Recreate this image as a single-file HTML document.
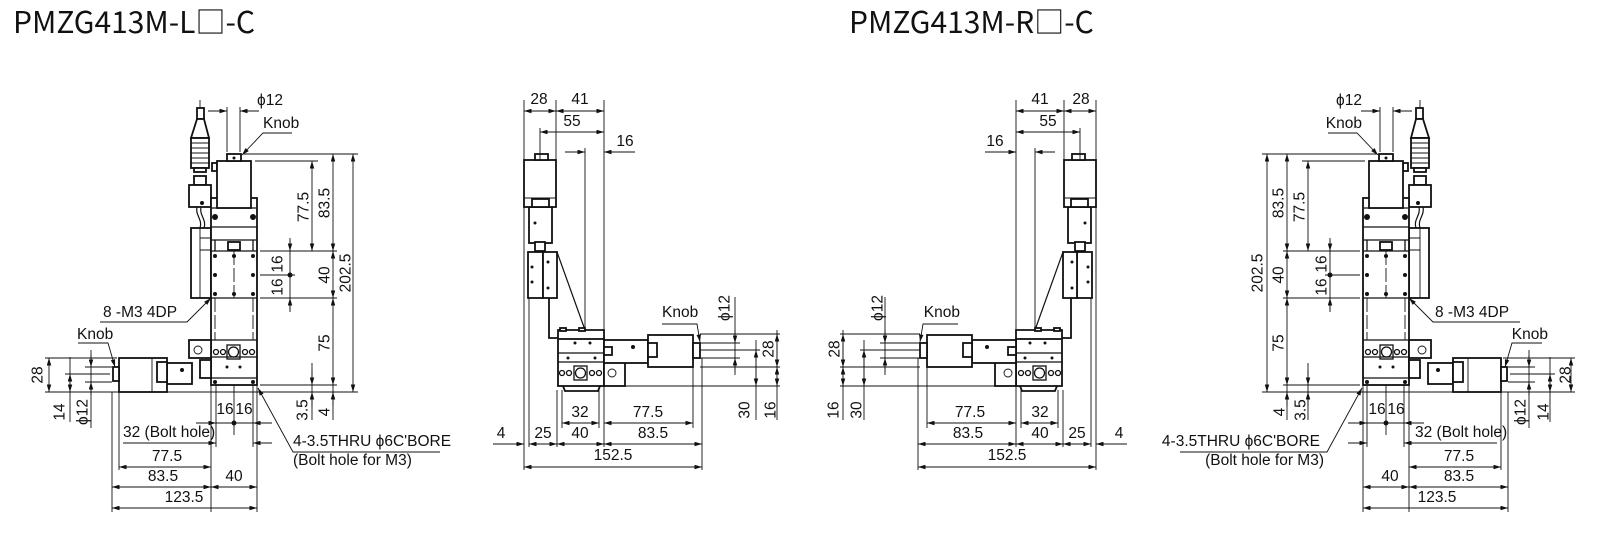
<!DOCTYPE html>
<html><head><meta charset="utf-8"><style>
html,body{margin:0;padding:0;background:#fff;}
svg{display:block;}
text{font-family:"Liberation Sans",sans-serif;font-size:15.5px;fill:#111;}
.ttl{font-family:"Noto Sans CJK JP","Liberation Sans",sans-serif;font-size:30px;}
.o{fill:#fff;stroke:#111;stroke-width:1.8;}
.t{fill:none;stroke:#111;stroke-width:0.9;}
.k{fill:#111;stroke:none;}
.m{fill:none;stroke:#111;stroke-width:0.9;marker-start:url(#a);marker-end:url(#a);}
.e{fill:none;stroke:#111;stroke-width:0.9;marker-end:url(#a);}
.r{dominant-baseline:central;text-anchor:middle;}
</style></head><body>
<svg width="1604" height="556" viewBox="0 0 1604 556" xmlns="http://www.w3.org/2000/svg">
<defs>
<marker id="a" viewBox="0 0 10 6" refX="10" refY="3" markerWidth="8" markerHeight="4.5" markerUnits="userSpaceOnUse" orient="auto-start-reverse"><path d="M0,0L10,3L0,6z" fill="#111"/></marker>
<g id="L">
<line class="t" x1="200" y1="100" x2="200" y2="110"/>
<rect class="o" x="197" y="108" width="7" height="11"/>
<path class="o" d="M197,119L191,138L209,138L204,119Z"/>
<rect class="o" x="191" y="138" width="18" height="30"/>
<path class="t" d="M191,143H209M191,148H209M191,153H209M191,158H209M191,163H209"/>
<rect class="o" x="194" y="168" width="12" height="4"/>
<rect class="o" x="194" y="176" width="12" height="9"/>
<rect class="o" x="189" y="185" width="22" height="22"/>
<circle class="k" cx="202" cy="203" r="2"/>
<path class="t" d="M197,207C195,215 203,220 200,228M201,207C199,215 207,220 204,228" style="stroke-width:1.2"/>
<rect class="o" x="191" y="228" width="20" height="70"/>
<path class="t" d="M200,228V298M200,238H211M200,250H211"/>
<rect class="o" x="212" y="163" width="5" height="8"/>
<rect class="o" x="211" y="198" width="46" height="187"/>
<path class="t" d="M211,208H257M211,227H257M211,240H257M211,251H257M211,298H257M211,340H257M211,357H257M211,378H257M215,240V251M253,240V251" style="stroke-width:1.3"/>
<rect class="o" x="217" y="161" width="34" height="47"/>
<rect class="o" x="227" y="154" width="14" height="7"/>
<circle class="k" cx="234" cy="158" r="1.5"/>
<circle class="k" cx="215" cy="217" r="3"/><circle class="k" cx="253" cy="217" r="3"/>
<rect class="o" x="228" y="242" width="12" height="8"/>
<g class="k"><circle cx="215" cy="256" r="2"/><circle cx="234" cy="256" r="2"/><circle cx="253" cy="256" r="2"/><circle cx="215" cy="275" r="2"/><circle cx="253" cy="275" r="2"/><circle cx="215" cy="294" r="2"/><circle cx="234" cy="294" r="2"/><circle cx="253" cy="294" r="2"/></g>
<path class="t" d="M234,251V298M215,298V340M253,298V340" style="stroke-dasharray:14,3"/>
<g class="t" style="stroke-width:1.3"><circle cx="216" cy="352" r="2.5"/><circle cx="223" cy="352" r="2.5"/><rect x="227" y="345" width="13" height="14"/><circle cx="233.5" cy="352" r="5"/><circle cx="245" cy="352" r="2.5"/><circle cx="252" cy="352" r="2.5"/></g>
<circle class="k" cx="227" cy="367" r="1.5"/><circle class="k" cx="240" cy="367" r="1.5"/>
<circle class="k" cx="215" cy="382" r="2"/><circle class="k" cx="253" cy="382" r="2"/>
<rect class="o" x="189" y="340" width="22" height="18"/>
<circle class="t" cx="198" cy="350" r="4"/>
<rect class="o" x="200" y="360" width="11" height="18"/>
<rect class="o" x="167" y="363" width="25" height="21"/>
<circle class="k" cx="182" cy="370" r="2"/>
<rect class="o" x="119" y="358" width="48" height="34"/>
<path class="t" d="M152,358V392"/>
<rect class="o" x="157" y="362" width="10" height="20"/>
<rect class="o" x="113" y="367" width="6" height="14"/>
<path class="t" d="M227,107V152M240,107V152M243,154H358M255,161H318M260,251H337M260,298H337M260,385H337M45,392H358M260,275H295M290,238V312M45,358H117M85,367H112M85,382H112M65,374H110M112,392V512M119,392V470M211,385V512M257,385V512M216,385V447M253,385V447M234,385V435M216,423H253M312,363V420M333,385V420M70,357V422M91,350V428"/>
<line class="e" x1="208" y1="111" x2="227" y2="111"/><line class="e" x1="259" y1="111" x2="240" y2="111"/>
<polyline class="e" points="292,133 263,133 242,155"/>
<line class="m" x1="312" y1="161" x2="312" y2="251"/>
<line class="m" x1="333" y1="154" x2="333" y2="251"/>
<line class="m" x1="353" y1="154" x2="353" y2="392"/>
<line class="m" x1="333" y1="251" x2="333" y2="298"/>
<line class="m" x1="333" y1="298" x2="333" y2="385"/>
<line class="e" x1="290" y1="240" x2="290" y2="251"/><line class="e" x1="290" y1="310" x2="290" y2="298"/>
<circle class="k" cx="290" cy="275" r="2.5"/>
<line class="e" x1="312" y1="370" x2="312" y2="385"/><line class="e" x1="312" y1="406" x2="312" y2="392"/>
<line class="e" x1="333" y1="406" x2="333" y2="392"/>
<polyline class="e" points="100,322 187,322 211,298"/>
<polyline class="e" points="78,343 108,343 115,367"/>
<line class="m" x1="49" y1="358" x2="49" y2="392"/>
<line class="m" x1="70" y1="374" x2="70" y2="392"/>
<line class="e" x1="91" y1="355" x2="91" y2="367"/><line class="e" x1="91" y1="395" x2="91" y2="382"/>
<line class="e" x1="196" y1="423" x2="216" y2="423"/><line class="e" x1="272" y1="423" x2="253" y2="423"/>
<circle class="k" cx="234" cy="423" r="2.5"/>
<line class="e" x1="123" y1="443" x2="216" y2="443"/><line class="e" x1="272" y1="443" x2="253" y2="443"/>
<line class="m" x1="119" y1="467" x2="211" y2="467"/>
<line class="m" x1="112" y1="487" x2="211" y2="487"/>
<line class="m" x1="211" y1="487" x2="257" y2="487"/>
<line class="m" x1="112" y1="508" x2="257" y2="508"/>
<polyline class="e" points="440,452 293,452 258,388"/>
<rect class="o" x="529" y="207" width="23" height="36"/>
<circle class="k" cx="535" cy="223" r="1.5"/>
<rect class="o" x="524" y="160" width="32" height="47"/>
<path class="t" d="M524,198H556"/>
<rect class="o" x="532" y="199" width="17" height="8"/>
<rect class="o" x="535" y="154" width="13" height="6"/>
<rect class="o" x="535" y="242" width="10" height="9"/>
<path class="o" d="M549,298V338H558" style="fill:none"/>
<line class="t" x1="557" y1="252" x2="585" y2="330" style="stroke-width:1.2"/>
<rect class="o" x="528" y="252" width="15" height="46"/>
<rect class="o" x="543" y="252" width="14" height="46"/>
<g class="k"><circle cx="532" cy="267" r="1.5"/><circle cx="532" cy="282" r="1.5"/><circle cx="548" cy="262" r="1.5"/><circle cx="548" cy="288" r="1.5"/></g>
<path class="o" d="M558,338V330H604V339" style="fill:none"/>
<rect class="o" x="560" y="328" width="6" height="3"/><rect class="o" x="579" y="328" width="6" height="3"/>
<rect class="o" x="558" y="339" width="46" height="47"/>
<path class="t" d="M558,353H604M558,362H604" style="stroke-width:1.3"/>
<g class="k"><circle cx="575" cy="343" r="1.5"/><circle cx="590" cy="343" r="1.5"/><circle cx="568" cy="358" r="1.5"/><circle cx="595" cy="358" r="1.5"/></g>
<g class="t" style="stroke-width:1.3"><circle cx="562" cy="373" r="2.5"/><circle cx="569" cy="373" r="2.5"/><rect x="574" y="366" width="13" height="14"/><circle cx="580.5" cy="373" r="5"/><circle cx="592" cy="373" r="2.5"/><circle cx="599" cy="373" r="2.5"/></g>
<path class="o" d="M563,386L565,391H598L600,386" style="fill:none"/>
<rect class="o" x="604" y="362" width="21" height="24"/>
<circle class="t" cx="612" cy="373" r="4"/>
<rect class="o" x="604" y="340" width="44" height="23"/>
<rect class="o" x="604" y="347" width="8" height="8"/>
<circle class="k" cx="633" cy="347" r="2"/>
<rect class="o" x="648" y="335" width="45" height="32"/>
<rect class="o" x="648" y="343" width="9" height="14"/>
<rect class="o" x="693" y="343" width="7" height="15"/>
<path class="t" d="M524,100V470M556,100V160M604,100V339M604,386V447M540,128V160M585,148V330M700,343H740M700,358H740M700,350H760M700,334H780M700,367H780M604,386H780M735,297V375M777,330V420M756,340V420M529,298V447M557,390V447M562,390V428M599,390V428M693,367V428M702,358V470"/>
<line class="m" x1="524" y1="111" x2="556" y2="111"/>
<line class="m" x1="556" y1="111" x2="604" y2="111"/>
<line class="m" x1="540" y1="132" x2="604" y2="132"/>
<line class="e" x1="565" y1="152" x2="585" y2="152"/><line class="e" x1="635" y1="152" x2="604" y2="152"/>
<polyline class="e" points="662,324 697,324 700,342"/>
<line class="e" x1="735" y1="330" x2="735" y2="343"/><line class="e" x1="735" y1="371" x2="735" y2="358"/>
<line class="m" x1="777" y1="334" x2="777" y2="367"/>
<line class="m" x1="777" y1="367" x2="777" y2="386"/>
<line class="m" x1="756" y1="350" x2="756" y2="386"/>
<line class="m" x1="562" y1="423" x2="599" y2="423"/>
<line class="m" x1="604" y1="423" x2="693" y2="423"/>
<line class="e" x1="493" y1="444" x2="524" y2="444"/>
<line class="m" x1="529" y1="444" x2="557" y2="444"/>
<line class="m" x1="557" y1="444" x2="604" y2="444"/>
<line class="m" x1="604" y1="444" x2="702" y2="444"/>
<line class="m" x1="524" y1="467" x2="702" y2="467"/>
</g>
</defs>
<use href="#L"/>
<use href="#L" transform="matrix(-1 0 0 1 1620 0)"/>

<text class="ttl" x="13" y="33">PMZG413M-L□-C</text>
<text class="ttl" x="849" y="33">PMZG413M-R□-C</text>

<text x="270" y="105" text-anchor="middle">ϕ12</text>
<text x="263" y="128">Knob</text>
<text class="r" transform="rotate(-90 304 207)" x="304" y="207">77.5</text>
<text class="r" transform="rotate(-90 325 203)" x="325" y="203">83.5</text>
<text class="r" transform="rotate(-90 346 273)" x="346" y="273">202.5</text>
<text class="r" transform="rotate(-90 278 287)" x="278" y="287">16</text>
<text class="r" transform="rotate(-90 278 264)" x="278" y="264">16</text>
<text class="r" transform="rotate(-90 325 275)" x="325" y="275">40</text>
<text class="r" transform="rotate(-90 325 343)" x="325" y="343">75</text>
<text class="r" transform="rotate(-90 303 410)" x="303" y="410">3.5</text>
<text class="r" transform="rotate(-90 325 412)" x="325" y="412">4</text>
<text x="103" y="317">8 -M3 4DP</text>
<text x="77" y="339">Knob</text>
<text class="r" transform="rotate(-90 38 375)" x="38" y="375">28</text>
<text class="r" transform="rotate(-90 60 412)" x="60" y="412">14</text>
<text class="r" transform="rotate(-90 83 412)" x="83" y="412">ϕ12</text>
<text x="225" y="414" text-anchor="middle">16</text>
<text x="244" y="414" text-anchor="middle">16</text>
<text x="123" y="437">32 (Bolt hole)</text>
<text x="167" y="461" text-anchor="middle">77.5</text>
<text x="163" y="481" text-anchor="middle">83.5</text>
<text x="234" y="481" text-anchor="middle">40</text>
<text x="184" y="502" text-anchor="middle">123.5</text>
<text x="293" y="446">4-3.5THRU ϕ6C'BORE</text>
<text x="293" y="465">(Bolt hole for M3)</text>

<text x="539" y="104" text-anchor="middle">28</text>
<text x="580" y="104" text-anchor="middle">41</text>
<text x="572" y="126" text-anchor="middle">55</text>
<text x="625" y="146" text-anchor="middle">16</text>
<text x="662" y="317">Knob</text>
<text class="r" transform="rotate(-90 725 308)" x="725" y="308">ϕ12</text>
<text class="r" transform="rotate(-90 769 349)" x="769" y="349">28</text>
<text class="r" transform="rotate(-90 745 410)" x="745" y="410">30</text>
<text class="r" transform="rotate(-90 771 410)" x="771" y="410">16</text>
<text x="580" y="417" text-anchor="middle">32</text>
<text x="648" y="417" text-anchor="middle">77.5</text>
<text x="501" y="438" text-anchor="middle">4</text>
<text x="543" y="438" text-anchor="middle">25</text>
<text x="580" y="438" text-anchor="middle">40</text>
<text x="653" y="438" text-anchor="middle">83.5</text>
<text x="613" y="460" text-anchor="middle">152.5</text>

<text x="1081" y="104" text-anchor="middle">28</text>
<text x="1040" y="104" text-anchor="middle">41</text>
<text x="1048" y="126" text-anchor="middle">55</text>
<text x="995" y="146" text-anchor="middle">16</text>
<text x="960" y="317" text-anchor="end">Knob</text>
<text class="r" transform="rotate(-90 878 308)" x="878" y="308">ϕ12</text>
<text class="r" transform="rotate(-90 835 349)" x="835" y="349">28</text>
<text class="r" transform="rotate(-90 857 410)" x="857" y="410">30</text>
<text class="r" transform="rotate(-90 834 410)" x="834" y="410">16</text>
<text x="1040" y="417" text-anchor="middle">32</text>
<text x="970" y="417" text-anchor="middle">77.5</text>
<text x="1119" y="438" text-anchor="middle">4</text>
<text x="1077" y="438" text-anchor="middle">25</text>
<text x="1040" y="438" text-anchor="middle">40</text>
<text x="968" y="438" text-anchor="middle">83.5</text>
<text x="1007" y="460" text-anchor="middle">152.5</text>

<text x="1349" y="105" text-anchor="middle">ϕ12</text>
<text x="1362" y="128" text-anchor="end">Knob</text>
<text class="r" transform="rotate(-90 1300 207)" x="1300" y="207">77.5</text>
<text class="r" transform="rotate(-90 1279 203)" x="1279" y="203">83.5</text>
<text class="r" transform="rotate(-90 1258 273)" x="1258" y="273">202.5</text>
<text class="r" transform="rotate(-90 1322 287)" x="1322" y="287">16</text>
<text class="r" transform="rotate(-90 1322 264)" x="1322" y="264">16</text>
<text class="r" transform="rotate(-90 1279 275)" x="1279" y="275">40</text>
<text class="r" transform="rotate(-90 1279 343)" x="1279" y="343">75</text>
<text class="r" transform="rotate(-90 1301 410)" x="1301" y="410">3.5</text>
<text class="r" transform="rotate(-90 1280 412)" x="1280" y="412">4</text>
<text x="1435" y="317">8 -M3 4DP</text>
<text x="1548" y="339" text-anchor="end">Knob</text>
<text class="r" transform="rotate(-90 1566 375)" x="1566" y="375">28</text>
<text class="r" transform="rotate(-90 1544 412)" x="1544" y="412">14</text>
<text class="r" transform="rotate(-90 1521 412)" x="1521" y="412">ϕ12</text>
<text x="1377" y="414" text-anchor="middle">16</text>
<text x="1396" y="414" text-anchor="middle">16</text>
<text x="1415" y="437">32 (Bolt hole)</text>
<text x="1459" y="461" text-anchor="middle">77.5</text>
<text x="1459" y="481" text-anchor="middle">83.5</text>
<text x="1390" y="481" text-anchor="middle">40</text>
<text x="1437" y="502" text-anchor="middle">123.5</text>
<text x="1320" y="446" text-anchor="end">4-3.5THRU ϕ6C'BORE</text>
<text x="1324" y="465" text-anchor="end">(Bolt hole for M3)</text>
</svg>
</body></html>
